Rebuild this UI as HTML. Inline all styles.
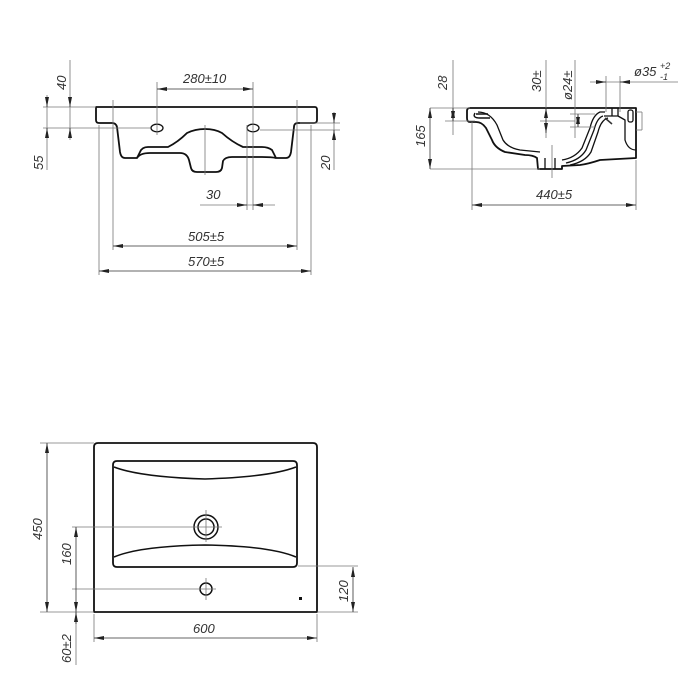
<!DOCTYPE html>
<html><head><meta charset="utf-8"><style>
html,body{margin:0;padding:0;background:#fff;}
svg{display:block;}
text{font-family:"Liberation Sans",sans-serif;font-style:italic;font-size:13px;fill:#333;}
.o{fill:none;stroke:#111;stroke-width:1.8;stroke-linejoin:round;}
.d{fill:none;stroke:#777;stroke-width:0.8;}
.a{fill:#222;}
</style></head><body>
<svg width="700" height="700" viewBox="0 0 700 700">
<defs>
<marker id="m" viewBox="0 0 10 4" refX="10" refY="2" markerWidth="10" markerHeight="4" orient="auto-start-reverse" markerUnits="userSpaceOnUse"><path d="M0,0 L10,2 L0,4z" fill="#222"/></marker>
</defs>

<!-- FRONT VIEW -->
<path class="o" d="M96,107 L315,107 Q317,107 317,110 L317,120 Q317,123 314,123 L298,123 Q294,123 294,127 L291,152 Q290,158 286,158 L276,158 L272,150 Q268,147 262,147 L243,147 Q232,142 222,133 Q215,129 205,129 Q195,129 187,133 Q178,142 168,147 L148,147 Q142,147 140,152 L137,158 L125,158 Q121,158 120,152 L117,127 Q116,123 112,123 L99,123 Q96,123 96,120 Z"/>
<path class="o" d="M137,158 Q140,153 150,153 L180,153 Q187,153 189,160 L191,168 Q192,172 197,172 L216,172 Q221,172 222,168 L223,161 Q225,157 232,157 L262,157 Q272,157 276,158"/>
<ellipse class="o" cx="157" cy="128" rx="6" ry="3.8" style="stroke-width:1.3"/>
<ellipse class="o" cx="253" cy="128" rx="6" ry="3.8" style="stroke-width:1.3"/>
<g class="d">
<line x1="205" y1="125" x2="205" y2="175"/>
<line x1="157" y1="82" x2="157" y2="135"/>
<line x1="253" y1="82" x2="253" y2="210"/>
<line x1="247" y1="125" x2="247" y2="210"/>
<line x1="43" y1="107" x2="96" y2="107"/>
<line x1="43" y1="128" x2="150" y2="128"/>
<line x1="260" y1="130" x2="340" y2="130"/>
<line x1="300" y1="123" x2="340" y2="123"/>
<line x1="113" y1="100" x2="113" y2="250"/>
<line x1="297" y1="100" x2="297" y2="250"/>
<line x1="99" y1="125" x2="99" y2="275"/>
<line x1="311" y1="125" x2="311" y2="275"/>
<line x1="70" y1="60" x2="70" y2="140"/>
<line x1="47" y1="95" x2="47" y2="170"/>
<line x1="334" y1="112" x2="334" y2="170"/>
<line x1="200" y1="205" x2="275" y2="205"/>
</g>
<g class="d" style="stroke:#333">
<line x1="157" y1="89" x2="253" y2="89" marker-start="url(#m)" marker-end="url(#m)"/>
<line x1="113" y1="246" x2="297" y2="246" marker-start="url(#m)" marker-end="url(#m)"/>
<line x1="99" y1="271" x2="311" y2="271" marker-start="url(#m)" marker-end="url(#m)"/>
<line x1="70" y1="97" x2="70" y2="107" marker-end="url(#m)"/>
<line x1="70" y1="138" x2="70" y2="128" marker-end="url(#m)"/>
<line x1="47" y1="97" x2="47" y2="107" marker-end="url(#m)"/>
<line x1="47" y1="138" x2="47" y2="128" marker-end="url(#m)"/>
<line x1="334" y1="113" x2="334" y2="123" marker-end="url(#m)"/>
<line x1="334" y1="140" x2="334" y2="130" marker-end="url(#m)"/>
<line x1="237" y1="205" x2="247" y2="205" marker-end="url(#m)"/>
<line x1="263" y1="205" x2="253" y2="205" marker-end="url(#m)"/>
</g>
<text x="183" y="83">280±10</text>
<text x="188" y="241">505±5</text>
<text x="188" y="266">570±5</text>
<text x="206" y="199">30</text>
<text transform="translate(66,90) rotate(-90)">40</text>
<text transform="translate(43,170) rotate(-90)">55</text>
<text transform="translate(330,170) rotate(-90)">20</text>

<!-- SIDE VIEW -->
<path class="o" d="M470,108 L636,108 L636,158 L600,160 Q588,164 580,165 L562,166 L562,169 L538,169 L537,158 Q533,155 525,155 L505,152 Q495,148 492,140 L486,128 Q482,122 476,122 L470,122 Q467,122 467,118 L467,111 Q467,108 470,108 Z"/>
<path class="o" style="stroke-width:1.4" d="M475,113 Q472,118 480,118 L490,118 M488,114 L476,114"/>
<path class="o" style="stroke-width:1.3" d="M478,112 Q490,112 497,125 L503,140 Q508,148 520,150 L540,152 M562,160 Q575,158 582,148 L590,128 Q593,115 600,112 L605,112"/>
<path class="o" style="stroke-width:1.3" d="M566,163 Q580,160 586,150 L594,130 Q597,118 603,116 M570,165 Q585,162 591,152 L598,132 Q601,120 608,118"/>
<path class="o" style="stroke-width:1.3" d="M604,116 L618,116 L625,120 L625,140 Q628,150 636,150 M612,108 L612,116 M618,108 L618,116"/>
<rect class="o" x="628" y="110" width="5" height="12" rx="2" style="stroke-width:1.3"/>
<path class="o" style="stroke-width:1.3" d="M545,158 L545,169 M555,158 L555,169"/>
<g class="d">
<line x1="430" y1="108" x2="470" y2="108"/>
<line x1="430" y1="169" x2="540" y2="169"/>
<line x1="472" y1="122" x2="472" y2="210"/>
<line x1="636" y1="160" x2="636" y2="210"/>
<line x1="453" y1="60" x2="453" y2="135"/>
<line x1="445" y1="121" x2="475" y2="121"/>
<line x1="546" y1="60" x2="546" y2="138"/>
<line x1="540" y1="121" x2="575" y2="121"/>
<line x1="575" y1="60" x2="575" y2="138"/>
<line x1="570" y1="114" x2="595" y2="114"/>
<line x1="570" y1="127" x2="595" y2="127"/>
<line x1="590" y1="82" x2="678" y2="82"/>
<line x1="606" y1="76" x2="606" y2="112"/>
<line x1="620" y1="76" x2="620" y2="112"/>
<line x1="552" y1="145" x2="552" y2="178"/>
<line x1="636" y1="112" x2="642" y2="112"/>
<line x1="636" y1="130" x2="642" y2="130"/>
<line x1="642" y1="112" x2="642" y2="130"/>
</g>
<g class="d" style="stroke:#333">
<line x1="430" y1="108" x2="430" y2="169" marker-start="url(#m)" marker-end="url(#m)"/>
<line x1="472" y1="205" x2="636" y2="205" marker-start="url(#m)" marker-end="url(#m)"/>
<line x1="453" y1="108" x2="453" y2="121" marker-start="url(#m)" marker-end="url(#m)"/>
<line x1="546" y1="108" x2="546" y2="133" marker-start="url(#m)" marker-end="url(#m)"/>
<line x1="578" y1="114" x2="578" y2="127" marker-start="url(#m)" marker-end="url(#m)"/>
<line x1="596" y1="82" x2="606" y2="82" marker-end="url(#m)"/>
<line x1="630" y1="82" x2="620" y2="82" marker-end="url(#m)"/>
<line x1="605" y1="118" x2="612" y2="124" style="stroke-width:1.5"/>
</g>
<text x="536" y="199">440±5</text>
<text x="634" y="76">ø35</text>
<text x="660" y="69" style="font-size:9px">+2</text>
<text x="660" y="80" style="font-size:9px">-1</text>
<text transform="translate(425,147) rotate(-90)">165</text>
<text transform="translate(447,90) rotate(-90)">28</text>
<text transform="translate(541,92) rotate(-90)">30±</text>
<text transform="translate(572,100) rotate(-90)">ø24±</text>

<!-- TOP VIEW -->
<path class="o" d="M94,612 L94,447 Q94,443 98,443 L313,443 Q317,443 317,447 L317,612 Z"/>
<path class="o" d="M113,465 Q113,461 117,461 L293,461 Q297,461 297,465 L297,563 Q297,567 293,567 L117,567 Q113,567 113,563 Z"/>
<path class="o" style="stroke-width:1.5" d="M114,467 Q140,477 205,479 Q270,477 296,467 M114,557 Q140,546 205,545 Q270,546 296,557"/>
<circle class="o" cx="206" cy="527" r="12" style="stroke-width:1.5"/>
<circle class="o" cx="206" cy="527" r="8" style="stroke-width:1.5"/>
<circle class="o" cx="206" cy="589" r="6" style="stroke-width:1.5"/>
<rect x="299" y="597" width="3" height="3" fill="#111"/>
<g class="d">
<line x1="72" y1="527" x2="222" y2="527"/>
<line x1="206" y1="510" x2="206" y2="542"/>
<line x1="72" y1="589" x2="216" y2="589"/>
<line x1="206" y1="578" x2="206" y2="600"/>
<line x1="40" y1="443" x2="94" y2="443"/>
<line x1="40" y1="612" x2="94" y2="612"/>
<line x1="298" y1="566" x2="358" y2="566"/>
<line x1="317" y1="612" x2="358" y2="612"/>
<line x1="94" y1="614" x2="94" y2="642"/>
<line x1="317" y1="614" x2="317" y2="642"/>
<line x1="76" y1="612" x2="76" y2="665"/>
</g>
<g class="d" style="stroke:#333">
<line x1="47" y1="443" x2="47" y2="612" marker-start="url(#m)" marker-end="url(#m)"/>
<line x1="76" y1="527" x2="76" y2="612" marker-start="url(#m)" marker-end="url(#m)"/>
<line x1="353" y1="567" x2="353" y2="612" marker-start="url(#m)" marker-end="url(#m)"/>
<line x1="94" y1="638" x2="317" y2="638" marker-start="url(#m)" marker-end="url(#m)"/>
<line x1="76" y1="624" x2="76" y2="612" marker-end="url(#m)"/>
</g>
<text x="193" y="633">600</text>
<text transform="translate(42,540) rotate(-90)">450</text>
<text transform="translate(71,565) rotate(-90)">160</text>
<text transform="translate(348,602) rotate(-90)">120</text>
<text transform="translate(71,663) rotate(-90)">60±2</text>
</svg>
</body></html>
